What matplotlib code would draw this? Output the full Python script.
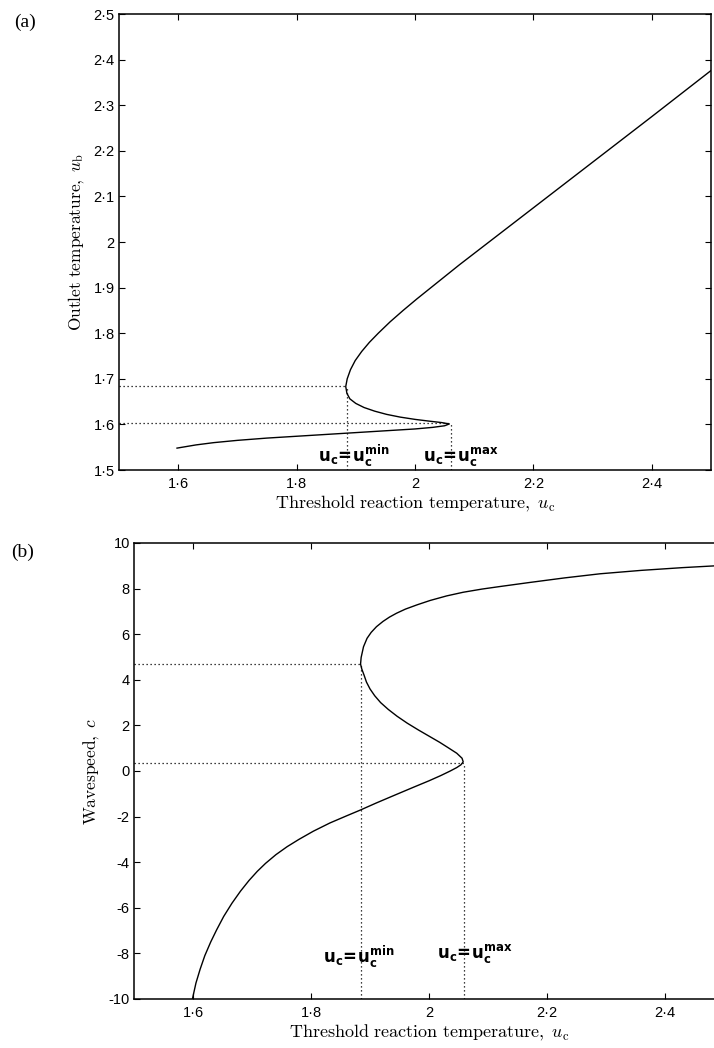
import matplotlib
matplotlib.use("Agg")
import matplotlib.pyplot as plt

plt.rcParams["mathtext.fontset"] = "cm"

# ---- data: branch of steady states, panel (a) ----
uc_a = [1.598, 1.630, 1.660, 1.700, 1.750, 1.800, 1.850, 1.900, 1.950, 2.000,
        2.030, 2.050, 2.058,
        2.045, 2.025, 2.000, 1.975, 1.952, 1.932, 1.914, 1.900, 1.890, 1.885,
        1.883,
        1.8855, 1.891, 1.899, 1.910, 1.923, 1.938, 1.958, 1.980, 2.003, 2.027,
        2.075, 2.125, 2.174, 2.250, 2.325, 2.400, 2.500]
ub_a = [1.548, 1.555, 1.560, 1.565, 1.570, 1.574, 1.578, 1.582, 1.586, 1.590,
        1.5935, 1.597, 1.601,
        1.604, 1.607, 1.611, 1.616, 1.622, 1.629, 1.637, 1.646, 1.656, 1.668,
        1.683,
        1.700, 1.720, 1.740, 1.760, 1.780, 1.800, 1.825, 1.850, 1.875, 1.900,
        1.950, 2.000, 2.049, 2.125, 2.200, 2.275, 2.376]

# ---- data: wavespeed branch, panel (b) ----
uc_b = [1.599, 1.605, 1.612, 1.620, 1.630, 1.640, 1.652, 1.666, 1.6805, 1.695,
        1.709, 1.723, 1.7405, 1.7595, 1.7795, 1.804, 1.832, 1.860, 1.883, 1.910,
        1.940, 1.973, 2.000, 2.020, 2.036, 2.047, 2.054, 2.058,
        2.056, 2.047, 2.032, 2.018, 2.002, 1.982, 1.963, 1.946, 1.931, 1.918,
        1.908, 1.900, 1.894, 1.890, 1.886, 1.884,
        1.885, 1.889, 1.895, 1.902, 1.911, 1.922, 1.933, 1.945, 1.960, 1.980,
        2.002, 2.030, 2.058, 2.090, 2.120, 2.171, 2.230, 2.290, 2.360, 2.430,
        2.500]
c_b = [-10.00, -9.30, -8.70, -8.10, -7.50, -6.97, -6.38, -5.80, -5.27, -4.80,
       -4.40, -4.05, -3.67, -3.32, -3.00, -2.64, -2.28, -1.97, -1.72, -1.41,
       -1.08, -0.72, -0.43, -0.20, 0.00, 0.15, 0.27, 0.40,
       0.56, 0.78, 1.03, 1.26, 1.50, 1.80, 2.10, 2.40, 2.70, 3.00,
       3.30, 3.60, 3.90, 4.20, 4.48, 4.69,
       4.98, 5.45, 5.82, 6.08, 6.33, 6.56, 6.75, 6.92, 7.10, 7.29,
       7.48, 7.68, 7.84, 7.98, 8.09, 8.27, 8.47, 8.65, 8.80, 8.92,
       9.02]

# fold points
uc_min, uc_max = 1.885, 2.060
ub_at_min, ub_at_max = 1.685, 1.603
c_at_min, c_at_max = 4.68, 0.36

# ticks
x_ticks = [1.6, 1.8, 2.0, 2.2, 2.4]
x_ticklabels = ["1·6", "1·8", "2", "2·2", "2·4"]
ya_ticks = [1.5, 1.6, 1.7, 1.8, 1.9, 2.0, 2.1, 2.2, 2.3, 2.4, 2.5]
ya_ticklabels = ["1·5", "1·6", "1·7", "1·8", "1·9", "2", "2·1", "2·2", "2·3", "2·4", "2·5"]
yb_ticks = [-10, -8, -6, -4, -2, 0, 2, 4, 6, 8, 10]
yb_ticklabels = ["-10", "-8", "-6", "-4", "-2", "0", "2", "4", "6", "8", "10"]

xlabel = r"$\mathrm{Threshold\ reaction\ temperature,}\ u_\mathrm{c}$"
ylabel_a = r"$\mathrm{Outlet\ temperature,}\ u_\mathrm{b}$"
ylabel_b = r"$\mathrm{Wavespeed,}\ c$"
label_min = r"$\mathbf{u_c\!=\!u_c^{min}}$"
label_max = r"$\mathbf{u_c\!=\!u_c^{max}}$"

W, H = 714, 1048
fig = plt.figure(figsize=(W / 100, H / 100), dpi=100)

serif = ["Liberation Serif", "DejaVu Serif"]
sans = ["Liberation Sans", "DejaVu Sans"]
dotted = dict(color="black", lw=0.9, linestyle=(0, (1, 2.2)))


def style_axes(ax, yt, ytl):
    ax.set_xticks(x_ticks)
    ax.set_xticklabels(x_ticklabels, family=sans, fontsize=10.5)
    ax.set_yticks(yt)
    ax.set_yticklabels(ytl, family=sans, fontsize=10.5)
    ax.tick_params(direction="in", top=True, right=True, length=4, width=0.8,
                   pad=3)
    ax.tick_params(axis="x", pad=5)
    for s in ax.spines.values():
        s.set_linewidth(1.1)


# ---------------- panel (a) ----------------
axa = fig.add_axes([119 / W, 1 - 470 / H, 592 / W, 456 / H])
axa.plot(uc_a, ub_a, color="black", lw=1.0)
axa.plot([1.5, uc_min], [ub_at_min, ub_at_min], **dotted)
axa.plot([uc_min, uc_min], [1.5, ub_at_min], **dotted)
axa.plot([1.5, uc_max], [ub_at_max, ub_at_max], **dotted)
axa.plot([uc_max, uc_max], [1.5, ub_at_max], **dotted)
axa.set_xlim(1.5, 2.5)
axa.set_ylim(1.5, 2.5)
style_axes(axa, ya_ticks, ya_ticklabels)
axa.set_xlabel(xlabel, fontsize=13, labelpad=2)
axa.set_ylabel(ylabel_a, fontsize=12.5, labelpad=5)
axa.text(1.836, 1.5175, label_min, fontsize=12, math_fontfamily="dejavusans",
         ha="left", va="baseline")
axa.text(2.0136, 1.520, label_max, fontsize=12, math_fontfamily="dejavusans",
         ha="left", va="baseline")

# ---------------- panel (b) ----------------
axb = fig.add_axes([134 / W, 1 - 999 / H, 590 / W, 456 / H])
axb.plot(uc_b, c_b, color="black", lw=1.0)
axb.plot([1.5, uc_min], [c_at_min, c_at_min], **dotted)
axb.plot([uc_min, uc_min], [-10, c_at_min], **dotted)
axb.plot([1.5, uc_max], [c_at_max, c_at_max], **dotted)
axb.plot([uc_max, uc_max], [-10, c_at_max], **dotted)
axb.set_xlim(1.5, 2.5)
axb.set_ylim(-10, 10)
style_axes(axb, yb_ticks, yb_ticklabels)
axb.set_xlabel(xlabel, fontsize=13, labelpad=2)
axb.set_ylabel(ylabel_b, fontsize=12.5, labelpad=5)
axb.text(1.820, -8.42, label_min, fontsize=12, math_fontfamily="dejavusans",
         ha="left", va="baseline")
axb.text(2.0136, -8.2, label_max, fontsize=12, math_fontfamily="dejavusans",
         ha="left", va="baseline")

# panel tags
fig.text(14 / W, 1 - 27 / H, "(a)", family=serif, fontsize=14, ha="left",
         va="baseline")
fig.text(11 / W, 1 - 557 / H, "(b)", family=serif, fontsize=14, ha="left",
         va="baseline")

fig.savefig("out.png", dpi=100)
